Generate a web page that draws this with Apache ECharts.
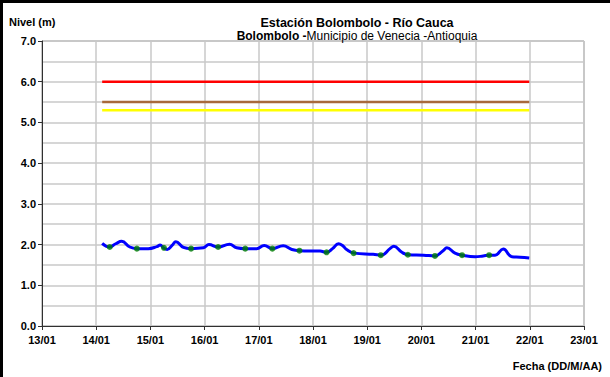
<!DOCTYPE html>
<html>
<head>
<meta charset="utf-8">
<script src="https://cdn.jsdelivr.net/npm/echarts@6/dist/echarts.min.js"></script>
<style>
  html, body { margin: 0; padding: 0; background: #fff; }
  #chart { width: 610px; height: 377px; }
</style>
</head>
<body>
<div id="chart"></div>
<script>
// Day of January (fractional: 14.25 = 14/01 06:00) and river level in metres
const levelDays = [14.11, 14.24, 14.36, 14.47, 14.62, 14.75, 14.96, 15.12, 15.18, 15.24, 15.31, 15.40, 15.47, 15.61, 15.75, 15.98,
  16.08, 16.25, 16.46, 16.59, 16.75, 16.96, 17.10, 17.25, 17.45, 17.61, 17.75, 18.13, 18.25, 18.36, 18.47, 18.55, 18.62, 18.76,
  19.11, 19.26, 19.42, 19.49, 19.64, 19.76, 20.04, 20.25, 20.40, 20.47, 20.62, 20.75, 20.99, 21.14, 21.25, 21.36, 21.51, 21.67, 21.82, 21.99];
const levelValues = [2.03, 1.94, 2.02, 2.08, 1.94, 1.90, 1.90, 1.95, 1.99, 1.92, 1.88, 1.98, 2.07, 1.93, 1.90, 1.92,
  2.00, 1.94, 2.01, 1.92, 1.90, 1.90, 1.98, 1.90, 1.97, 1.88, 1.85, 1.84, 1.81, 1.90, 2.02, 1.97, 1.88, 1.79,
  1.76, 1.74, 1.90, 1.96, 1.81, 1.75, 1.74, 1.72, 1.85, 1.92, 1.79, 1.74, 1.70, 1.72, 1.74, 1.74, 1.89, 1.70, 1.69, 1.67];

// Readings at 06:00 and 18:00
const readingDays = [14.25, 14.75, 15.25, 15.75, 16.25, 16.75, 17.25, 17.75, 18.25, 18.75, 19.25, 19.75, 20.25, 20.75, 21.25];
const readingValues = [1.94, 1.90, 1.92, 1.90, 1.94, 1.90, 1.90, 1.85, 1.81, 1.79, 1.74, 1.75, 1.72, 1.74, 1.74];

// Alert thresholds (m) and the span they cover
const thresholdNames = ['Roja', 'Naranja', 'Amarilla'];
const thresholdLevels = [6.0, 5.5, 5.3];
const thresholdColors = ['#ff0000', '#a86a3c', '#ffff00'];
const thresholdSpan = [14.11, 21.99];

// Axis tick labels
const xTickDays = [13, 14, 15, 16, 17, 18, 19, 20, 21, 22, 23];
const yTicks = [0, 1, 2, 3, 4, 5, 6, 7];

const FONT = '"Liberation Sans", Arial, sans-serif';

const levelData = levelDays.map((d, i) => [d, levelValues[i]]);
const readingData = readingDays.map((d, i) => [d, readingValues[i]]);

const thresholdSeries = thresholdLevels.map((lv, i) => ({
  name: thresholdNames[i],
  type: 'line',
  data: thresholdSpan.map(d => [d, lv]),
  symbol: 'none',
  lineStyle: { color: thresholdColors[i], width: 2.5 },
  silent: true,
  z: 3
}));

const chart = echarts.init(document.getElementById('chart'), null, { renderer: 'svg' });

chart.setOption({
  animation: false,
  backgroundColor: '#fff',
  title: {
    text: 'Estación Bolombolo - Río Cauca',
    subtext: '{b|Bolombolo -}{n|Municipio de Venecia -Antioquia}',
    left: 352,
    textAlign: 'center',
    top: 11,
    itemGap: 1,
    textStyle: { fontFamily: FONT, fontSize: 12.5, fontWeight: 'bold', color: '#000' },
    subtextStyle: {
      fontFamily: FONT, fontSize: 12, color: '#000',
      rich: {
        b: { fontFamily: FONT, fontSize: 12, fontWeight: 'bold', color: '#000' },
        n: { fontFamily: FONT, fontSize: 12, color: '#000' }
      }
    }
  },
  grid: {
    left: 42, top: 41, right: 26, bottom: 51,
    show: true, borderColor: '#8c8c8c', borderWidth: 1
  },
  xAxis: {
    type: 'value',
    min: xTickDays[0],
    max: xTickDays[xTickDays.length - 1],
    interval: 1,
    axisLine: { lineStyle: { color: '#303030', width: 1 } },
    axisTick: { show: true, length: 4, lineStyle: { color: '#303030' } },
    axisLabel: {
      fontFamily: FONT, fontSize: 11, fontWeight: 'bold', color: '#000', margin: 8,
      formatter: v => String(v).padStart(2, '0') + '/01'
    },
    splitLine: { show: true, lineStyle: { color: '#c8c8c8', width: 1.5 } }
  },
  yAxis: {
    type: 'value',
    min: yTicks[0],
    max: yTicks[yTicks.length - 1],
    interval: 1,
    axisLine: { show: true, lineStyle: { color: '#303030', width: 1 } },
    axisTick: { show: true, length: 4, lineStyle: { color: '#303030' } },
    axisLabel: {
      fontFamily: FONT, fontSize: 11, fontWeight: 'bold', color: '#000', margin: 6,
      formatter: v => v.toFixed(1)
    },
    splitLine: { show: true, lineStyle: { color: '#c8c8c8', width: 1.5 } },
    minorTick: { show: false, splitNumber: 2 },
    minorSplitLine: { show: true, lineStyle: { color: '#c8c8c8', width: 1.5 } }
  },
  graphic: [
    { type: 'rect', left: 0, top: 0, shape: { width: 3, height: 377 }, style: { fill: '#000' } },
    { type: 'rect', left: 0, top: 0, shape: { width: 610, height: 3 }, style: { fill: '#000' } },
    { type: 'text', left: 9, top: 16, style: { text: 'Nivel (m)', fontFamily: FONT, fontSize: 11, fontWeight: 'bold', fill: '#000' } },
    { type: 'text', right: 8, top: 360, style: { text: 'Fecha (DD/M/AA)', fontFamily: FONT, fontSize: 11, fontWeight: 'bold', fill: '#000' } }
  ],
  series: [
    ...thresholdSeries,
    {
      name: 'Nivel',
      type: 'line',
      data: levelData,
      smooth: 0.45,
      symbol: 'none',
      lineStyle: { color: '#0000ff', width: 3 },
      z: 4
    },
    {
      name: 'Lectura',
      type: 'scatter',
      data: readingData,
      symbol: 'circle',
      symbolSize: 6,
      itemStyle: { color: '#008000' },
      z: 5
    }
  ]
});
</script>
</body>
</html>
